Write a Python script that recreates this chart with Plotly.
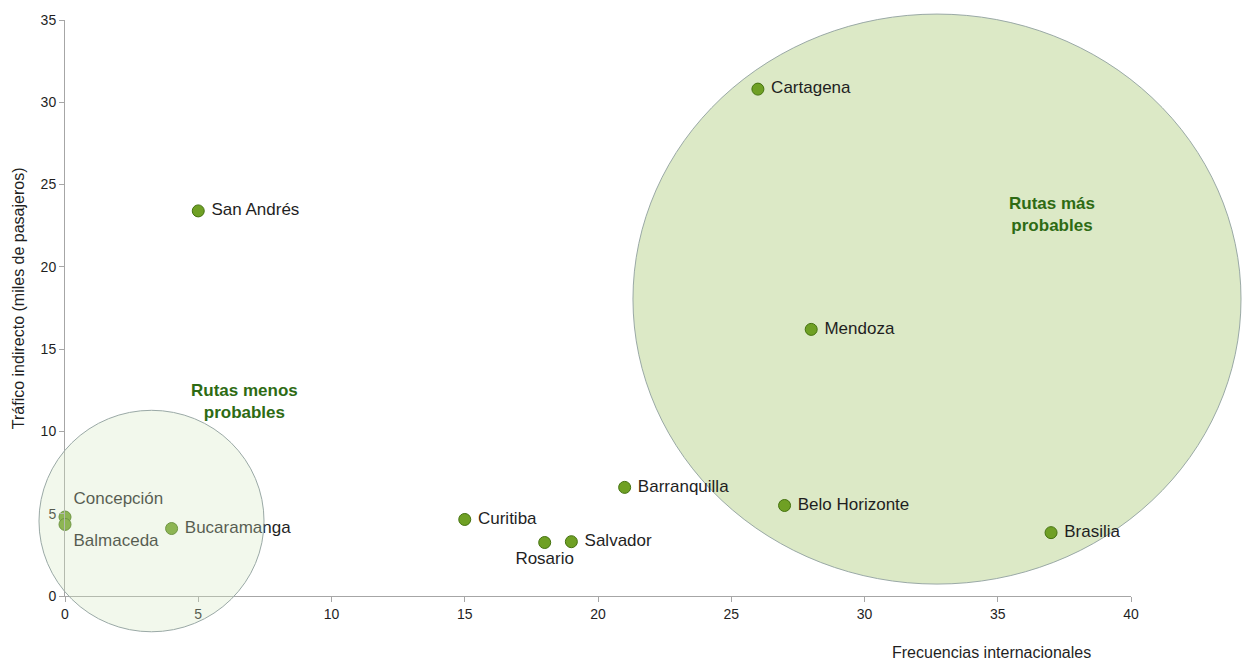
import plotly.graph_objects as go

# Routes: international frequencies vs indirect traffic (thousands of passengers)
ciudades = ["Cartagena", "San Andrés", "Mendoza", "Barranquilla", "Belo Horizonte",
            "Brasilia", "Curitiba", "Rosario", "Salvador", "Bucaramanga",
            "Concepción", "Balmaceda"]
frecuencias = [26, 5, 28, 21, 27, 37, 15, 18, 19, 4, 0, 0]
trafico = [30.8, 23.4, 16.2, 6.6, 5.5, 3.85, 4.65, 3.25, 3.3, 4.1, 4.8, 4.35]
posiciones = ["middle right"] * 10 + ["top right", "bottom right"]
posiciones[7] = "bottom center"

ticks_x = [0, 5, 10, 15, 20, 25, 30, 35, 40]
ticks_y = [0, 5, 10, 15, 20, 25, 30, 35]

FONT = "Liberation Sans, Arial, sans-serif"
AXIS_GREY = "#A6A6A6"

etiquetas = []
for c, p in zip(ciudades, posiciones):
    if p == "middle right":
        etiquetas.append("\u00a0" + c)
    else:
        etiquetas.append(c)

fig = go.Figure()
fig.add_trace(go.Scatter(
    x=frecuencias, y=trafico, mode="markers+text",
    text=etiquetas, textposition=posiciones,
    textfont=dict(family=FONT, size=17, color="#1F1F1F"),
    marker=dict(size=12, color="#6FA024", line=dict(color="#44720F", width=1)),
    cliponaxis=False, showlegend=False, hoverinfo="skip",
))

# Highlight ellipses (paper coordinates so they can spill past the axes)
fig.add_shape(type="circle", xref="paper", yref="paper",
              x0=0.5328, x1=1.1032, y0=0.0207, y1=1.0103,
              fillcolor="#DCE9C6", line=dict(color="#9AA9A6", width=1),
              layer="below")
fig.add_shape(type="circle", xref="paper", yref="paper",
              x0=-0.0244, x1=0.1867, y0=-0.0621, y1=0.3224,
              fillcolor="rgba(212,231,191,0.3)", line=dict(color="#9AA9A6", width=1),
              layer="above")

fig.add_annotation(x=6.72, y=11.83, xref="x", yref="y", showarrow=False,
                   text="<b>Rutas menos<br>probables</b>",
                   font=dict(family=FONT, size=17, color="#2E6B14"))
fig.add_annotation(x=37.04, y=23.17, xref="x", yref="y", showarrow=False,
                   text="<b>Rutas más<br>probables</b>",
                   font=dict(family=FONT, size=17, color="#2E6B14"))

# Axis titles
fig.add_annotation(x=0.8696, y=-0.0983, xref="paper", yref="paper", showarrow=False,
                   text="Frecuencias internacionales", xanchor="center", yanchor="middle",
                   font=dict(family=FONT, size=16, color="#1F1F1F"))
fig.add_annotation(x=-0.0441, y=0.517, xref="paper", yref="paper", showarrow=False,
                   text="Tráfico indirecto (miles de pasajeros)", textangle=-90,
                   xanchor="center", yanchor="middle",
                   font=dict(family=FONT, size=16, color="#1F1F1F"))

axis_common = dict(showline=True, linecolor=AXIS_GREY, linewidth=1,
                   ticks="outside", ticklen=5, tickcolor=AXIS_GREY,
                   showgrid=False, zeroline=False,
                   tickfont=dict(family=FONT, size=14, color="#1F1F1F"))

fig.update_layout(
    width=1249, height=666,
    margin=dict(l=65, r=118, t=16, b=70),
    paper_bgcolor="white", plot_bgcolor="white",
    xaxis=dict(range=[0, 40], tickvals=ticks_x, **axis_common),
    yaxis=dict(range=[0, 35], tickvals=ticks_y, **axis_common),
)

fig.write_html("out.html")
